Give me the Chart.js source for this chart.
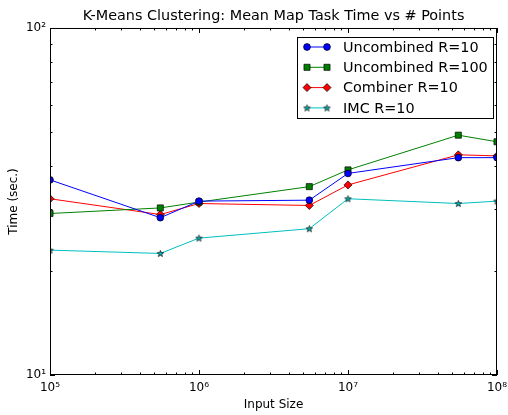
<!DOCTYPE html>
<html>
<head>
<meta charset="utf-8">
<script src="https://cdn.jsdelivr.net/npm/chart.js@4"></script>
<style>
  html, body { margin: 0; padding: 0; background: #fff; }
  #wrap { width: 508px; height: 415px; }
</style>
</head>
<body>
<div id="wrap"><canvas id="graphKmeans" width="508" height="415"></canvas></div>
<script>
// donnees
const inputSizes = [1e5, 5.5e5, 1e6, 5.5e6, 1e7, 5.5e7, 1e8];
const uncombined10 = [36.5, 28.4, 31.7, 31.9, 38.1, 42.3, 42.3];
const uncombined100 = [29.2, 30.3, 31.5, 34.9, 39.0, 49.1, 47.0];
const combiner10 = [32.2, 29.0, 31.2, 30.8, 35.3, 43.1, 42.8];
const imc10 = [22.9, 22.4, 24.8, 26.4, 32.2, 31.2, 31.7];
const seriesLabels = ['Uncombined R=10', 'Uncombined R=100', 'Combiner R=10', 'IMC R=10'];
const xTickLabels = { 1e5: '10⁵', 1e6: '10⁶', 1e7: '10⁷', 1e8: '10⁸' };
const yTickLabels = { 10: '10¹', 100: '10²' };

const FONT = "'DejaVu Sans', sans-serif";

// etoile remplie facon matplotlib
function makeStar(fill) {
  const c = document.createElement('canvas');
  c.width = 9; c.height = 9;
  const g = c.getContext('2d');
  g.beginPath();
  for (let i = 0; i < 10; i++) {
    const r = i % 2 === 0 ? 3.4 : 1.4;
    const a = -Math.PI / 2 + i * Math.PI / 5;
    g.lineTo(4.5 + r * Math.cos(a), 4.8 + r * Math.sin(a));
  }
  g.closePath();
  g.fillStyle = fill;
  g.fill();
  g.lineWidth = 0.7;
  g.strokeStyle = '#000';
  g.stroke();
  return c;
}

function points(values) {
  return inputSizes.map((x, i) => ({ x: x, y: values[i] }));
}

function serie(label, values, color, style, radius) {
  return {
    label: label,
    data: points(values),
    borderColor: color,
    backgroundColor: color,
    pointBackgroundColor: color,
    pointBorderColor: '#000',
    pointBorderWidth: 0.7,
    pointStyle: style,
    pointRadius: radius,
    borderWidth: 1,
    tension: 0,
    clip: 0,
  };
}

// ticks vers l'interieur + cadre + legende
const axesPlugin = {
  id: 'axesPlugin',
  afterLayout(chart) {
    // titre centre sur la zone du graphe, comme matplotlib
    chart.titleBlock.left = chart.chartArea.left;
    chart.titleBlock.right = chart.chartArea.right;
    chart.titleBlock.width = chart.chartArea.right - chart.chartArea.left;
  },
  afterDraw(chart) {
    const c = chart.ctx;
    const a = chart.chartArea;
    const xs = chart.scales.x, ys = chart.scales.y;
    c.save();
    c.strokeStyle = '#000';
    c.lineWidth = 1;
    c.strokeRect(a.left + 0.5, a.top + 0.5, a.right - a.left - 1, a.bottom - a.top - 1);
    c.beginPath();
    for (let e = 5; e <= 8; e++) {
      for (let m = 1; m <= 9; m++) {
        const v = m * Math.pow(10, e);
        if (v > 1e8) break;
        const px = Math.round(xs.getPixelForValue(v)) + 0.5;
        const len = m === 1 ? 5 : 2.5;
        c.moveTo(px, a.bottom); c.lineTo(px, a.bottom - len);
        c.moveTo(px, a.top); c.lineTo(px, a.top + len);
      }
    }
    for (let m = 1; m <= 10; m++) {
      const v = m * 10;
      const py = Math.round(ys.getPixelForValue(v)) + 0.5;
      const len = (m === 1 || m === 10) ? 5 : 2.5;
      c.moveTo(a.left, py); c.lineTo(a.left + len, py);
      c.moveTo(a.right, py); c.lineTo(a.right - len, py);
    }
    c.stroke();

    // legende
    const lx = 297.5, ly = 37.5, lw = 196, lh = 81;
    c.fillStyle = '#fff';
    c.fillRect(lx, ly, lw, lh);
    c.strokeRect(lx, ly, lw, lh);
    c.font = '14.4px ' + FONT;
    c.textBaseline = 'middle';
    chart.data.datasets.forEach((ds, i) => {
      const y = 47 + i * 20.3;
      c.strokeStyle = ds.borderColor;
      c.lineWidth = 1;
      c.beginPath();
      c.moveTo(307, y); c.lineTo(327, y);
      c.stroke();
      c.fillStyle = ds.pointBackgroundColor;
      c.strokeStyle = '#000';
      c.lineWidth = 0.7;
      const opts = { pointStyle: ds.pointStyle, radius: ds.pointRadius, borderWidth: 0.7, rotation: 0 };
      Chart.helpers.drawPoint(c, opts, 307, y);
      Chart.helpers.drawPoint(c, opts, 327, y);
      c.fillStyle = '#000';
      c.fillText(ds.label, 343, y + 1);
    });
    c.restore();
  }
};

const ctx = document.getElementById('graphKmeans');

new Chart(ctx, {
  type: 'line',
  data: {
    datasets: [
      serie(seriesLabels[0], uncombined10, '#0000ff', 'circle', 3.4),
      serie(seriesLabels[1], uncombined100, '#008000', 'rect', 4.3),
      serie(seriesLabels[2], combiner10, '#ff0000', 'rectRot', 4),
      serie(seriesLabels[3], imc10, '#00bfbf', makeStar('#00bfbf'), 4),
    ]
  },
  options: {
    responsive: false,
    animation: false,
    layout: { padding: { left: 0, right: 11, top: 0, bottom: 0 } },
    plugins: {
      legend: { display: false },
      tooltip: { enabled: false },
      title: {
        display: true,
        text: 'K-Means Clustering: Mean Map Task Time vs # Points',
        color: '#000',
        font: { family: FONT, size: 14.4, weight: 'normal', lineHeight: 1.2 },
        padding: { top: 7.9, bottom: 2.8 },
      }
    },
    scales: {
      x: {
        type: 'logarithmic',
        min: 1e5,
        max: 1e8,
        grid: { display: false, drawTicks: false },
        border: { display: false },
        afterBuildTicks: (s) => { s.ticks = Object.keys(xTickLabels).map(v => ({ value: Number(v) })); },
        afterFit: (s) => { s.height = 40; s.paddingLeft = 0; s.paddingRight = 0; },
        ticks: {
          autoSkip: false,
          maxRotation: 0,
          padding: 6,
          color: '#000',
          font: { family: FONT, size: 12 },
          callback: (v) => xTickLabels[v] || '',
        },
        title: {
          display: true,
          text: 'Input Size',
          color: '#000',
          font: { family: FONT, size: 12 },
          padding: { top: 0, bottom: 3 },
        }
      },
      y: {
        type: 'logarithmic',
        min: 10,
        max: 100,
        grid: { display: false, drawTicks: false },
        border: { display: false },
        afterBuildTicks: (s) => { s.ticks = Object.keys(yTickLabels).map(v => ({ value: Number(v) })); },
        afterFit: (s) => { s.width = 50; s.paddingTop = 0; s.paddingBottom = 0; },
        ticks: {
          autoSkip: false,
          padding: 4,
          color: '#000',
          font: { family: FONT, size: 12 },
          callback: (v) => yTickLabels[v] || '',
        },
        title: {
          display: true,
          text: 'Time (sec.)',
          color: '#000',
          font: { family: FONT, size: 12 },
          padding: { top: 7, bottom: 0 },
        }
      }
    }
  },
  plugins: [axesPlugin]
});
</script>
</body>
</html>
